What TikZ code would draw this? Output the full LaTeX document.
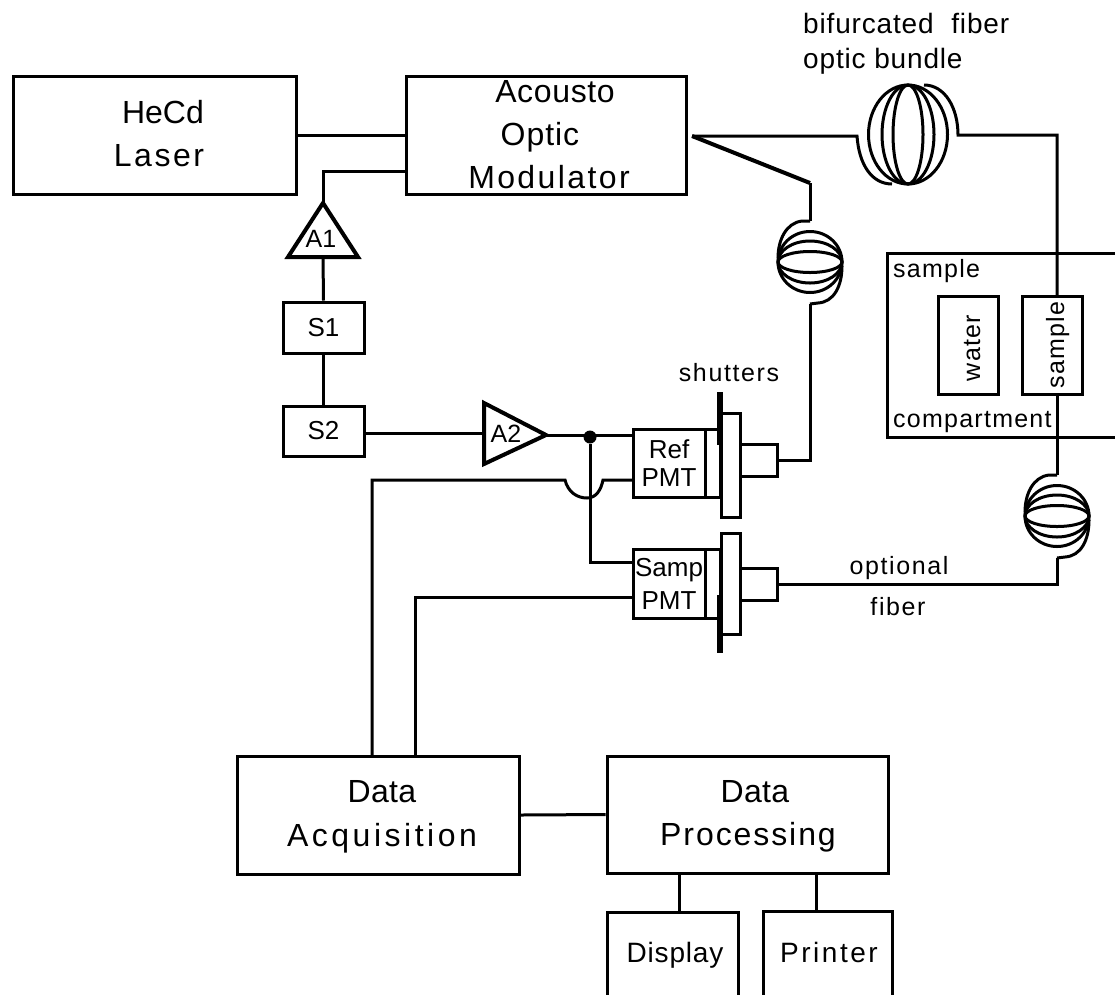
\documentclass[tikz,border=0pt]{standalone}
\usepackage{fontspec}
\setmainfont{Liberation Sans}
\usetikzlibrary{positioning}
\tikzset{
    wire/.style={line width=3pt, line join=miter},
    box/.style={rectangle, draw, line width=3pt, inner sep=0pt, align=center,
        font=\fontsize{26}{28}\selectfont},
    shutter/.style={rectangle, fill=black, inner sep=0pt, minimum width=6pt},
    amp/.style={line width=4pt, line join=miter},
    biglbl/.style={anchor=base, inner sep=0pt, font=\fontsize{32}{38}\selectfont\addfontfeature{LetterSpace=#1}},
    midlbl/.style={anchor=base, inner sep=0pt, font=\fontsize{28}{32}\selectfont\addfontfeature{LetterSpace=#1}},
    smalllbl/.style={anchor=base, inner sep=0pt, font=\fontsize{25}{28}\selectfont\addfontfeature{LetterSpace=#1}}
}
\begin{document}
\begin{tikzpicture}[x=1pt,y=-1pt]
        \useasboundingbox (0,0) rectangle (1115,994);
        % main boxes
        \node[box,minimum width=283.5pt,minimum height=117.5pt] (laser) at (155,135.5) {};
        \node[box,minimum width=280pt,minimum height=118pt] (aom) at (546,135.5) {};
        \node[box,minimum width=282pt,minimum height=118pt] (daq) at (378,815) {};
        \node[box,minimum width=281pt,minimum height=117pt] (proc) at (747.5,814.5) {};
        \node[box,minimum width=131pt,minimum height=92pt] (display) at (672.5,958) {};
        \node[box,minimum width=129pt,minimum height=93pt] (printer) at (827.5,957.5) {};
        \node[biglbl=0] (hecd) at (163,123) {HeCd};
        \node[biglbl=8] (lasertxt) at (159,166) {Laser};
        \node[biglbl=2] (acousto) at (555,102) {Acousto};
        \node[biglbl=3] (optic) at (540,145) {Optic};
        \node[biglbl=7.5] (modulator) at (549,188) {Modulator};
        \node[biglbl=1] (daqtop) at (382,802) {Data};
        \node[biglbl=11] (daqbot) at (382,846) {Acquisition};
        \node[biglbl=1] (proctop) at (755,802) {Data};
        \node[biglbl=6] (procbot) at (748,845) {Processing};
        \node[midlbl=3] (displaytxt) at (675,962) {Display};
        \node[midlbl=9] (printertxt) at (829,962) {Printer};
        % switches and amplifiers
        \node[box,minimum width=81pt,minimum height=51pt] (s1) at (323.5,327.5) {S1};
        \node[box,minimum width=81pt,minimum height=50pt] (s2) at (323.5,431) {S2};
        \coordinate (a1top) at (323,203);
        \coordinate (a1base) at (323,257);
        \coordinate (a2in) at (484,433);
        \coordinate (a2tip) at (546,435);
        \draw[amp] (a1top) -- (358,257) -- (288,257) -- cycle;
        \draw[amp] (a2tip) -- (484,464) -- (484,403) -- cycle;
        \node[smalllbl=0] (a1) at (321,247) {A1};
        \node[smalllbl=0] (a2) at (506,442) {A2};
        % detectors
        \node[box,minimum width=72pt,minimum height=68pt] (ref) at (669,463) {Ref\\PMT};
        \node[box,minimum width=15pt,minimum height=68pt] (refneck) at (712.5,463) {};
        \node[box,minimum width=19pt,minimum height=104pt] (refflange) at (730.5,465) {};
        \node[box,minimum width=37pt,minimum height=32pt] (refconn) at (758.5,460) {};
        \node[shutter,minimum height=53pt] (refshutter) at (720,418.5) {};
        \node[box,minimum width=72pt,minimum height=69pt,font=\fontsize{26}{33}\selectfont] (samp) at (669,583.5) {Samp\\PMT};
        \node[box,minimum width=15pt,minimum height=69pt] (sampneck) at (712.5,583.5) {};
        \node[box,minimum width=19pt,minimum height=101pt] (sampflange) at (730.5,583.5) {};
        \node[box,minimum width=37pt,minimum height=32pt] (sampconn) at (758.5,584) {};
        \node[shutter,minimum height=58pt] (sampshutter) at (720,624) {};
        \node[smalllbl=6.5] (shutters) at (729,381) {shutters};
        \node[smalllbl=6.5] (optional) at (899,574) {optional};
        \node[smalllbl=6.5] (fiber) at (898,615) {fiber};
        % sample compartment
        \node[box,minimum width=238pt,minimum height=184pt] (compartment) at (1006,345) {};
        \node[box,minimum width=60pt,minimum height=98pt] (watercell) at (968,345) {};
        \node[box,minimum width=60pt,minimum height=98pt] (samplecell) at (1052,345) {};
        \node[smalllbl=5,anchor=base west] (sampletop) at (893,277) {sample};
        \node[smalllbl=5,anchor=base west] (samplebot) at (893,427) {compartment};
        \node[smalllbl=5,rotate=90] (water) at (980,348) {water};
        \node[smalllbl=5,rotate=90] (sampletxt) at (1064,345) {sample};
        \node[midlbl=3,anchor=base west] (bifurcated) at (803,33) {bifurcated\hspace{9pt} fiber};
        \node[midlbl=3,anchor=base west] (bundletxt) at (803,68) {optic bundle};
        % fiber coils
        \foreach \name/\cx/\cy in {refcoil/810/262,sampcoil/1057/516} {
            \foreach \ry in {10.5,21,30.5}
                \draw[wire] (\cx,\cy) ellipse [x radius=32,y radius=\ry];
            \coordinate (\name-top) at (\cx,\cy-41);
            \coordinate (\name-bot) at (\cx,\cy+42);
            \draw[wire] (\name-top) -- (\cx-8,\cy-41) .. controls (\cx-24,\cy-39) and (\cx-32,\cy-22) .. (\cx-32,\cy-4);
            \draw[wire] (\cx+32,\cy+4) .. controls (\cx+32,\cy+24) and (\cx+24,\cy+40) .. (\cx+8,\cy+41) -- (\name-bot);
        }
        \foreach \rx in {15,26,39.5}
            \draw[wire] (908,134.5) ellipse [x radius=\rx,y radius=49.5];
        \coordinate (split) at (692,136);
        \coordinate (bundlein) at (857,136);
        \coordinate (bundleout) at (958,135);
        \coordinate (refturn) at (810,183);
        \coordinate (cellin) at (1057,296);
        \coordinate (cellout) at (1057,394);
        % connectors
        \draw[wire] (laser.east) -- (aom.west);
        \coordinate (aomin) at (406,171);
        \draw[wire] (a1top) |- (aomin);
        \draw[wire] (s1.north) -- (a1base);
        \draw[wire] (s2.north) -- (s1.south);
        \draw[wire] (s2.east |- a2in) -- (a2in);
        \draw[wire] (a2tip) -- (ref.west |- a2tip);
        \node[circle,fill=black,inner sep=0pt,minimum size=13pt] (junction) at (590,437) {};
        \coordinate (sampin) at (633,562);
        \draw[wire] (junction) |- (sampin);
        \coordinate (daqref) at (372,756);
        \coordinate (daqsamp) at (415,756);
        \coordinate (hopl) at (565,480);
        \coordinate (hopr) at (603,480);
        \coordinate (refout) at (633,480);
        \coordinate (sampout) at (633,597);
        \draw[wire] (daqref) |- (hopl) .. controls (568,492) and (577,498) .. (587,498)
            .. controls (596,498) and (601,490) .. (hopr) -- (refout);
        \draw[wire] (daqsamp) |- (sampout);
        \draw[wire] (daq.east) -- (proc.west);
        \coordinate (dispin) at (679,912);
        \coordinate (printin) at (816,912);
        \draw[wire] (dispin) -- (dispin |- proc.south);
        \draw[wire] (printin) -- (printin |- proc.south);
        \draw[wire] (split) -- (bundlein) .. controls (859,165) and (872,184) .. (892,184);
        \draw[wire] (924,85) .. controls (945,85) and (958,108) .. (bundleout) -| (cellin);
        \draw[wire] (cellout) -- (sampcoil-top);
        \draw[wire] (sampcoil-bot) |- (sampconn.east);
        \draw[line width=4pt] (split) -- (refturn);
        \draw[wire] (refturn) -- (refcoil-top);
        \draw[wire] (refcoil-bot) |- (refconn.east);
    \end{tikzpicture}
\end{document}
